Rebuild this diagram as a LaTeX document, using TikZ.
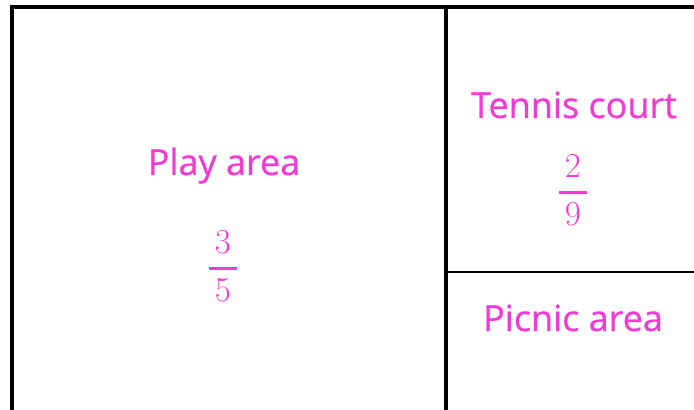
\RequirePackage{fix-cm}
\documentclass[tikz,border=0pt]{standalone}
\usepackage{amsmath}
\usepackage{xcolor}
\usepackage{fontspec}
\usepackage{tikz}
\usetikzlibrary{positioning}
\newfontfamily\areafont[FakeBold=0.7]{Open Sans}
\definecolor{areapink}{RGB}{240, 60, 210}
\newcommand{\areafrac}[2]{$\genfrac{}{}{1.4pt}{0}{\,#1\,}{\,#2\,}$}

\begin{document}
\begin{tikzpicture}[x=0.5pt, y=-0.5pt,
        wall/.style={black, line width=1.6pt},
        arealabel/.style={text=areapink, inner sep=0pt, font=\areafont\fontsize{18}{21}\selectfont},
        fraclabel/.style={text=areapink, inner sep=0pt, font=\fontsize{17.5}{21}\selectfont}]
            \useasboundingbox (0,0) rectangle (694,410);
            \draw[wall] (12,420) -- (12,7) -- (700,7);
            \draw[wall] (446,7) -- (446,420);
            \draw[wall, line width=1.3pt] (446,272) -- (700,272);

            % Zona gioco
            \node[arealabel, anchor=base] (play) at (224,175) {Play area};
            \node[fraclabel] (playfrac) at (223,266) {\areafrac{3}{5}};

            % Campo da tennis e picnic
            \node[arealabel, anchor=base] (tennis) at (574,118) {Tennis court};
            \node[fraclabel] (tennisfrac) at (573,190) {\areafrac{2}{9}};
            \node[arealabel, anchor=base] (picnic) at (573,331) {Picnic area};
        \end{tikzpicture}
\end{document}
